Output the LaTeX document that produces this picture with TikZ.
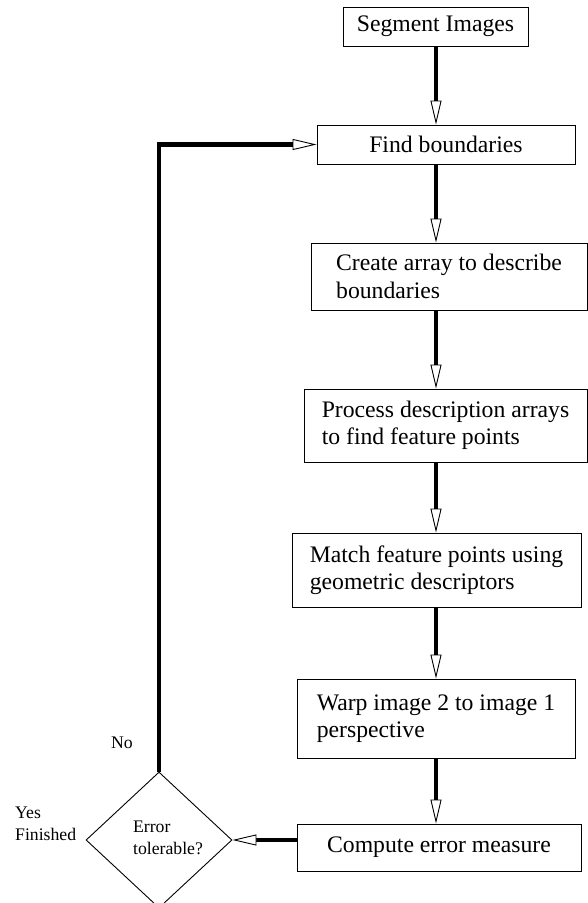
\documentclass[tikz,border=0pt]{standalone}
\usepackage{fontspec}
\setmainfont{Liberation Serif}
\usetikzlibrary{arrows.meta,shapes.geometric}
\begin{document}
\begin{tikzpicture}[x=1pt, y=-1pt,
    box/.style={draw, line width=0.9pt, align=left, inner sep=0pt, font=\fontsize{23.7}{27.5}\selectfont},
    decision/.style={draw, diamond, line width=0.9pt, inner sep=0pt, minimum width=146pt, minimum height=136pt},
    note/.style={align=left, inner sep=0pt, font=\fontsize{17.7}{22}\selectfont},
    flow/.style={line width=4.5pt, -{Triangle[length=24pt, width=11pt, line width=0.9pt, fill=white]}}]
    \useasboundingbox (0,0) rectangle (588,903);
    % main column
    \node[box, minimum width=185pt, minimum height=39pt] (seg) at (435.5,26.5) {Segment Images};
    \node[box, minimum width=258pt, minimum height=39pt] (find) at (446,144.5) {Find boundaries};
    \node[box, minimum width=276pt, minimum height=67pt] (create) at (449,276.5) {Create array to describe\\boundaries};
    \node[box, minimum width=283pt, minimum height=73pt] (process) at (445.5,425.5) {Process description arrays\\to find feature points};
    \node[box, minimum width=289pt, minimum height=74pt] (match) at (436.5,570) {Match feature points using\\geometric descriptors};
    \node[box, minimum width=278pt, minimum height=79pt] (warp) at (436,718.5) {Warp image 2 to image 1\\perspective};
    \node[box, minimum width=284pt, minimum height=47pt] (compute) at (439,847.5) {Compute error measure};
    % decision
    \node[decision] (check) at (159,840) {};
    \node[note] (checktxt) at (168,838) {Error\\tolerable?};
    \node[note, anchor=west] (yes) at (15,824) {Yes\\Finished};
    \node[note] (no) at (122,743) {No};
    % arrows
    \coordinate (col) at (436,0);
    \foreach \a/\b in {seg/find, find/create, create/process, process/match, match/warp, warp/compute}
        \draw[flow] (\a.south -| col) -- (\b.north -| col);
    \draw[flow] (check.east -| compute.west) -- (check.east);
    \draw[flow] (check.north) |- (find.west);
\end{tikzpicture}
\end{document}
